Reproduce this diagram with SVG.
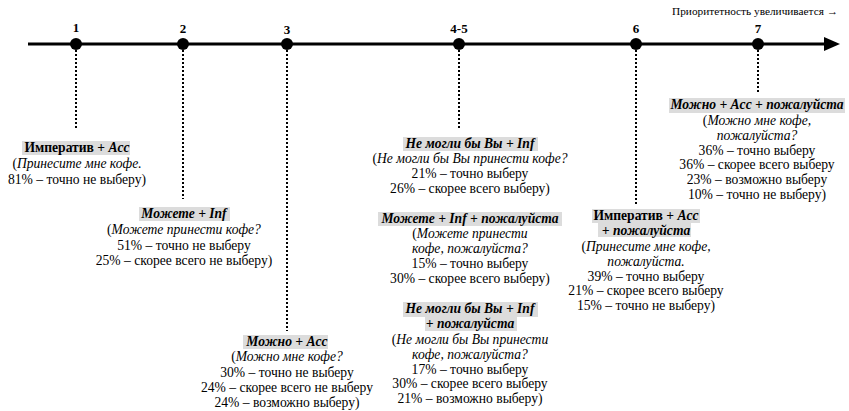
<svg xmlns="http://www.w3.org/2000/svg" width="849" height="411" viewBox="0 0 849 411">
<style>
text{font-family:"Liberation Serif","Times New Roman",serif;font-size:13.6px;fill:#000;text-anchor:middle}
.b{font-weight:bold}
.i{font-style:italic}
.bi{font-weight:bold;font-style:italic}
.num{font-weight:bold;font-size:13px}
.hl{fill:#dcdcdc}
.dot{fill:#000}
.dash{stroke:#000;stroke-width:2;stroke-dasharray:2 2;fill:none}
</style>
<rect width="849" height="411" fill="#fff"/>
<g id="axis">
<line x1="28" y1="44" x2="828" y2="44" stroke="#000" stroke-width="3"/>
<polygon points="840,44 824,37 824,51" fill="#000"/>
<text x="838" y="15" style="font-size:11.3px;text-anchor:end">Приоритетность увеличивается →</text>
</g>
<g id="connectors">
<line class="dash" x1="76" y1="50" x2="76" y2="129"/>
<line class="dash" x1="183" y1="50" x2="183" y2="199"/>
<line class="dash" x1="287" y1="50" x2="287" y2="331"/>
<line class="dash" x1="459" y1="50" x2="459" y2="129"/>
<line class="dash" x1="636" y1="50" x2="636" y2="205"/>
<line class="dash" x1="758" y1="50" x2="758" y2="94"/>
</g>
<g id="p1">
<circle class="dot" cx="76" cy="44" r="6"/>
<text class="num" x="76" y="32">1</text>
<rect class="hl" x="22" y="141" width="108" height="14"/>
<text x="77" y="152"><tspan class="b">Императив + </tspan><tspan class="bi">Acc</tspan></text>
<text x="77" y="168">(<tspan class="i">Принесите мне кофе.</tspan></text>
<text x="77" y="184">81% – точно не выберу)</text>
</g>
<g id="p2">
<circle class="dot" cx="183" cy="44" r="6"/>
<text class="num" x="183" y="33">2</text>
<rect class="hl" x="139" y="207" width="91" height="14"/>
<text class="bi" x="184" y="218">Можете + Inf</text>
<text x="184" y="234">(<tspan class="i">Можете принести кофе?</tspan></text>
<text x="184" y="250">51% – точно не выберу</text>
<text x="184" y="265">25% – скорее всего не выберу)</text>
</g>
<g id="p3">
<circle class="dot" cx="287" cy="44" r="6"/>
<text class="num" x="287" y="34">3</text>
<rect class="hl" x="243" y="335" width="85" height="14"/>
<text class="bi" x="287" y="346">Можно + Acc</text>
<text x="287" y="361">(<tspan class="i">Можно мне кофе?</tspan></text>
<text x="287" y="377">30% – точно не выберу</text>
<text x="287" y="392">24% – скорее всего не выберу</text>
<text x="287" y="407">24% – возможно выберу)</text>
</g>
<g id="p45">
<circle class="dot" cx="459" cy="44" r="6"/>
<text class="num" x="459" y="33">4-5</text>
<rect class="hl" x="403" y="137" width="135" height="14"/>
<text class="bi" x="470" y="148">Не могли бы Вы + Inf</text>
<text x="470" y="163">(<tspan class="i">Не могли бы Вы принести кофе?</tspan></text>
<text x="470" y="178">21% – точно выберу</text>
<text x="470" y="193">26% – скорее всего выберу)</text>
<rect class="hl" x="378" y="212" width="184" height="14"/>
<text class="bi" x="470" y="223">Можете + Inf + пожалуйста</text>
<text x="470" y="238">(<tspan class="i">Можете принести</tspan></text>
<text class="i" x="470" y="253">кофе, пожалуйста?</text>
<text x="470" y="268">15% – точно выберу</text>
<text x="470" y="283">30% – скорее всего выберу)</text>
<rect class="hl" x="403" y="302" width="135" height="15"/>
<rect class="hl" x="425" y="317" width="92" height="14"/>
<text class="bi" x="470" y="313">Не могли бы Вы + Inf</text>
<text class="bi" x="470" y="328">+ пожалуйста</text>
<text x="470" y="344">(<tspan class="i">Не могли бы Вы принести</tspan></text>
<text class="i" x="470" y="359">кофе, пожалуйста?</text>
<text x="470" y="374">17% – точно выберу</text>
<text x="470" y="388">30% – скорее всего выберу</text>
<text x="470" y="403">21% – возможно выберу)</text>
</g>
<g id="p6">
<circle class="dot" cx="636" cy="44" r="6"/>
<text class="num" x="636" y="33">6</text>
<rect class="hl" x="592" y="209" width="108" height="14"/>
<rect class="hl" x="598" y="223" width="93" height="14"/>
<text x="646" y="220"><tspan class="b">Императив + </tspan><tspan class="bi">Acc</tspan></text>
<text class="bi" x="646" y="235">+ пожалуйста</text>
<text x="646" y="251">(<tspan class="i">Принесите мне кофе,</tspan></text>
<text class="i" x="646" y="266">пожалуйста.</text>
<text x="646" y="281">39% – точно выберу</text>
<text x="646" y="295">21% – скорее всего выберу</text>
<text x="646" y="310">15% – точно не выберу)</text>
</g>
<g id="p7">
<circle class="dot" cx="758" cy="44" r="6"/>
<text class="num" x="758" y="33">7</text>
<rect class="hl" x="669" y="98" width="176" height="15"/>
<text class="bi" x="757" y="109">Можно + Acc + пожалуйста</text>
<text x="757" y="125">(<tspan class="i">Можно мне кофе,</tspan></text>
<text class="i" x="757" y="140">пожалуйста?</text>
<text x="757" y="155">36% – точно выберу</text>
<text x="757" y="169">36% – скорее всего выберу</text>
<text x="757" y="184">23% – возможно выберу</text>
<text x="757" y="199">10% – точно не выберу)</text>
</g>
</svg>
